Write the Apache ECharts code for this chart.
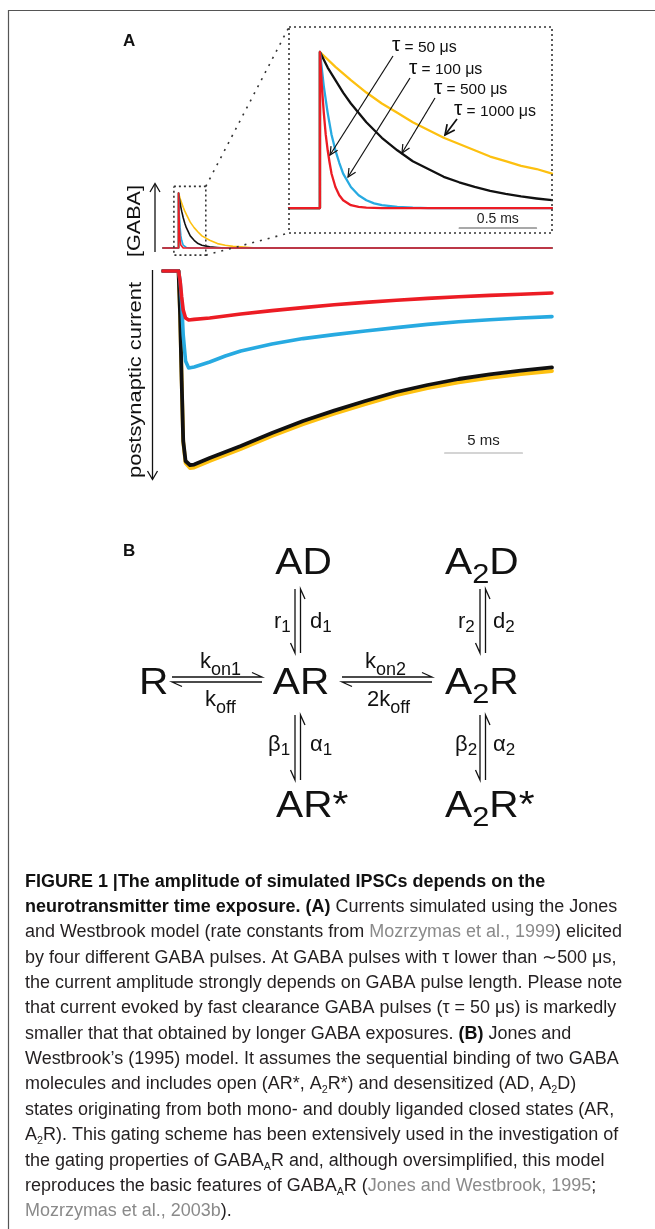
<!DOCTYPE html>
<html><head><meta charset="utf-8">
<script src="https://cdn.jsdelivr.net/npm/echarts@6/dist/echarts.min.js"></script>
<style>html,body{margin:0;padding:0;background:#fff}#c{width:655px;height:1229px}</style>
</head><body><div id="c"></div>
<script>
// ---------------- DATA ----------------
// GABA pulses, overview trace (time in ms, normalised concentration)
const smallT      = [-1, 0, 0, 0.05, 0.1, 0.15, 0.2, 0.3, 0.4, 0.5, 0.75, 1, 1.25, 1.5, 2, 2.5, 3, 3.5, 4, 5, 24];
const smallRed    = [0, 0, 1, 0.37, 0.14, 0.05, 0.02, 0, 0, 0, 0, 0, 0, 0, 0, 0, 0, 0, 0, 0, 0];
const smallBlue   = [0, 0, 1, 0.61, 0.37, 0.22, 0.14, 0.05, 0.02, 0.01, 0, 0, 0, 0, 0, 0, 0, 0, 0, 0, 0];
const smallBlack  = [0, 0, 1, 0.9, 0.82, 0.74, 0.67, 0.55, 0.45, 0.37, 0.22, 0.14, 0.08, 0.05, 0.02, 0.01, 0, 0, 0, 0, 0];
const smallYellow = [0, 0, 1, 0.95, 0.9, 0.86, 0.82, 0.74, 0.67, 0.61, 0.47, 0.37, 0.29, 0.22, 0.14, 0.08, 0.05, 0.03, 0.02, 0, 0];

// GABA pulses, zoomed inset
const redInT    = [-0.2, 0, 0, 0.0125, 0.025, 0.0375, 0.05, 0.0625, 0.075, 0.1, 0.125, 0.15, 0.2, 0.25, 0.3, 0.4, 1.5];
const redIn     = [0, 0, 1, 0.78, 0.61, 0.47, 0.37, 0.29, 0.22, 0.135, 0.082, 0.05, 0.018, 0.007, 0.002, 0, 0];
const blueInT   = [-0.2, 0, 0, 0.025, 0.05, 0.075, 0.1, 0.125, 0.15, 0.2, 0.25, 0.3, 0.35, 0.4, 0.5, 0.6, 0.7, 1.5];
const blueIn    = [0, 0, 1, 0.78, 0.61, 0.47, 0.37, 0.29, 0.22, 0.135, 0.082, 0.05, 0.03, 0.018, 0.007, 0.002, 0, 0];
const blackInT  = [-0.2, 0, 0, 0.05, 0.1, 0.15, 0.2, 0.3, 0.4, 0.5, 0.6, 0.7, 0.8, 0.9, 1.0, 1.1, 1.2, 1.3, 1.4, 1.5];
const blackIn   = [0, 0, 1, 0.9, 0.82, 0.74, 0.67, 0.55, 0.45, 0.37, 0.3, 0.25, 0.2, 0.165, 0.135, 0.11, 0.09, 0.074, 0.061, 0.05];
const yellowInT = [-0.2, 0, 0, 0.1, 0.2, 0.3, 0.4, 0.5, 0.6, 0.7, 0.8, 0.9, 1.0, 1.1, 1.2, 1.3, 1.4, 1.5];
const yellowIn  = [0, 0, 1, 0.905, 0.82, 0.74, 0.67, 0.61, 0.55, 0.5, 0.45, 0.41, 0.37, 0.33, 0.3, 0.27, 0.25, 0.22];
const tauLabels = ['50', '100', '500', '1000'];

// Postsynaptic currents (time in ms, arbitrary units)
const curRedT   = [-1, 0, 0.1, 0.2, 0.3, 0.45, 0.65, 1, 2, 3, 4, 6, 8, 10, 12, 14, 16, 18, 20, 22, 24];
const curRed    = [0, 0, -5, -13, -19.5, -23.5, -24.5, -24.2, -23.5, -22.5, -21.5, -19.8, -18.3, -16.9, -15.7, -14.6, -13.7, -12.9, -12.2, -11.6, -11];
const curBlueT  = [-1, 0, 0.1, 0.2, 0.3, 0.45, 0.65, 1, 2, 3, 4, 6, 8, 10, 12, 14, 16, 18, 20, 22, 24];
const curBlue   = [0, 0, -5, -16, -32, -45, -48.5, -48, -45.5, -42.5, -40, -36.5, -33.8, -31.8, -30, -28.3, -26.7, -25.4, -24.4, -23.5, -22.8];
const curBlackT = [-1, 0, 0.1, 0.2, 0.3, 0.45, 0.73, 1, 2, 3, 4, 6, 8, 10, 12, 14, 16, 18, 20, 22, 24];
const curBlack  = [0, 0, -22, -55, -85, -95, -97, -96.8, -93.5, -90.5, -87.5, -81, -75, -69.8, -65, -60.5, -57, -54, -51.7, -49.8, -48.2];
const curYellow = [0, 0, -22, -55, -85.5, -96, -98.5, -98.3, -95, -92, -89, -82.5, -76.6, -71.4, -66.6, -62.1, -58.6, -55.7, -53.4, -51.6, -50];

// scale bars
const insetBar = [0.9, 1.4, -0.128];   // 0.5 ms
const curBar   = [17.1, 22.1, -91];    // 5 ms

// Caption (style, text)
const captionLines = [
  [['b', 'FIGURE 1 |The amplitude of simulated IPSCs depends on the']],
  [['b', 'neurotransmitter time exposure. (A)'], ['n', ' Currents simulated using the Jones']],
  [['n', 'and Westbrook model (rate constants from '], ['g', 'Mozrzymas et al., 1999'], ['n', ') elicited']],
  [['n', 'by four different GABA pulses. At GABA pulses with τ lower than ∼500 μs,']],
  [['n', 'the current amplitude strongly depends on GABA pulse length. Please note']],
  [['n', 'that current evoked by fast clearance GABA pulses (τ = 50 μs) is markedly']],
  [['n', 'smaller that that obtained by longer GABA exposures. '], ['b', '(B)'], ['n', ' Jones and']],
  [['n', 'Westbrook’s (1995) model. It assumes the sequential binding of two GABA']],
  [['n', 'molecules and includes open (AR*, A'], ['s', '2'], ['n', 'R*) and desensitized (AD, A'], ['s', '2'], ['n', 'D)']],
  [['n', 'states originating from both mono- and doubly liganded closed states (AR,']],
  [['n', 'A'], ['s', '2'], ['n', 'R). This gating scheme has been extensively used in the investigation of']],
  [['n', 'the gating properties of GABA'], ['s', 'A'], ['n', 'R and, although oversimplified, this model']],
  [['n', 'reproduces the basic features of GABA'], ['s', 'A'], ['n', 'R ('], ['g', 'Jones and Westbrook, 1995'], ['n', ';']],
  [['g', 'Mozrzymas et al., 2003b'], ['n', ').']]
];

// ---------------- CHART ----------------
const FONT = "'Liberation Sans', Arial, Helvetica, sans-serif";
const RED = '#ec1c24', BLUE = '#27aae1', BLACK = '#111111', YELLOW = '#fdc010';
const chart = echarts.init(document.getElementById('c'), null, {renderer: 'canvas'});
const zip = (t, v) => t.map((x, i) => [x, v[i]]);
const hidden = {show: false};
function ax(min, max, i) {
  return {type: 'value', gridIndex: i, min, max, show: false, axisLine: hidden, axisTick: hidden, axisLabel: hidden, splitLine: hidden};
}
function ln(name, x, y, data, color, width) {
  return {name, type: 'line', xAxisIndex: x, yAxisIndex: y, data, showSymbol: false, symbol: 'none', clip: false,
          lineStyle: {color, width, cap: 'round', join: 'round'}, silent: true, animation: false};
}

chart.setOption({
  animation: false,
  backgroundColor: '#ffffff',
  grid: [
    {left: 163, top: 187.5, width: 389, height: 66},
    {left: 289, top: 27, width: 263, height: 206},
    {left: 163, top: 267, width: 389, height: 208}
  ],
  xAxis: [ax(-1, 24, 0), ax(-0.2, 1.5, 1), ax(-1, 24, 2)],
  yAxis: [ax(-0.1, 1.1, 0), ax(-0.16, 1.16, 1), ax(-102, 2, 2)],
  series: [
    ln('s-y', 0, 0, zip(smallT, smallYellow), YELLOW, 1.6),
    ln('s-k', 0, 0, zip(smallT, smallBlack), BLACK, 1.6),
    ln('s-b', 0, 0, zip(smallT, smallBlue), BLUE, 1.6),
    ln('s-r', 0, 0, zip(smallT, smallRed), RED, 1.6),
    ln('i-y', 1, 1, zip(yellowInT, yellowIn), YELLOW, 2.3),
    ln('i-k', 1, 1, zip(blackInT, blackIn), BLACK, 2.3),
    ln('i-b', 1, 1, zip(blueInT, blueIn), BLUE, 2.3),
    ln('i-r', 1, 1, zip(redInT, redIn), RED, 2.3),
    ln('bar1', 1, 1, [[insetBar[0], insetBar[2]], [insetBar[1], insetBar[2]]], '#555', 1.2),
    ln('c-y', 2, 2, zip(curBlackT, curYellow), YELLOW, 3.8),
    ln('c-k', 2, 2, zip(curBlackT, curBlack), BLACK, 3.8),
    ln('c-b', 2, 2, zip(curBlueT, curBlue), BLUE, 3.6),
    ln('c-r', 2, 2, zip(curRedT, curRed), RED, 3.6),
    ln('bar2', 2, 2, [[curBar[0], curBar[2]], [curBar[1], curBar[2]]], '#aaaaaa', 1.2)
  ]
});

// ---------------- TEXT / DECORATION ----------------
const mctx = document.createElement('canvas').getContext('2d');
function tw(text, size, weight) { mctx.font = (weight || 'normal') + ' ' + size + 'px ' + FONT; return mctx.measureText(text).width; }
function txt(text, x, y, size, opt) {
  opt = opt || {};
  return {type: 'text', x, y, rotation: opt.rot || 0, scaleX: opt.sx || 1, silent: true, z: 100,
    style: {text, fill: opt.color || '#111', fontSize: size, fontWeight: opt.weight || 'normal', fontFamily: FONT,
            lineHeight: size, align: opt.align || 'left', verticalAlign: 'middle', textAlign: opt.align || 'left', textVerticalAlign: 'middle'}};
}
// place runs on a baseline (optional horizontal stretch sx)
function place(runs, x, base, align, sx) {
  sx = sx || 1;
  const w = runs.map(r => tw(r.t, r.s, r.w) * sx);
  const total = w.reduce((a, b) => a + b, 0);
  let cx = align === 'center' ? x - total / 2 : x;
  const out = [];
  runs.forEach((r, i) => {
    out.push(txt(r.t, cx, base + (r.dy || 0) - 0.35 * r.s, r.s, {color: r.c, weight: r.w, sx}));
    cx += w[i];
  });
  return out;
}
function pl(points, opt) {
  opt = opt || {};
  return {type: 'polyline', silent: true, z: 90, shape: {points},
    style: {stroke: opt.color || '#111', lineWidth: opt.w || 1.2, fill: null, lineDash: opt.dash || null}};
}
function arrow(x1, y1, x2, y2, len, w) {
  len = len || 9;
  const a = Math.atan2(y2 - y1, x2 - x1), s = 0.45;
  return [pl([[x1, y1], [x2, y2]], {w: w || 1.2}),
          pl([[x2 - len * Math.cos(a - s), y2 - len * Math.sin(a - s)], [x2, y2], [x2 - len * Math.cos(a + s), y2 - len * Math.sin(a + s)]], {w: w || 1.2})];
}
function hp(x1, x2, y) {
  return [pl([[x1, y], [x2, y], [x2 - 10, y - 4.5]], {w: 1.3}),
          pl([[x1 + 10, y + 9.5], [x1, y + 5], [x2, y + 5]], {w: 1.3})];
}
function vp(x, y1, y2) {
  return [pl([[x, y1], [x, y2], [x - 4.5, y2 - 10]], {w: 1.3}),
          pl([[x + 10, y1 + 10], [x + 5.5, y1], [x + 5.5, y2]], {w: 1.3})];
}

const P = (g, p) => chart.convertToPixel({gridIndex: g}, p);
const G = [];
// frame
G.push(pl([[655, 10.5], [8.5, 10.5], [8.5, 1229]], {color: '#555', w: 1.2}));
// panel letters
G.push(...place([{t: 'A', s: 17, w: 'bold'}], 123, 47));
G.push(...place([{t: 'B', s: 17, w: 'bold'}], 123, 557));

// dotted boxes + connectors
const sb1 = P(0, [-0.3, 1.12]), sb2 = P(0, [1.75, -0.13]);
const ib1 = P(1, [-0.2, 1.16]), ib2 = P(1, [1.5, -0.16]);
const dot = {color: '#333', w: 1.6, dash: [2, 3]};
G.push(pl([[sb1[0], sb1[1]], [sb2[0], sb1[1]], [sb2[0], sb2[1]], [sb1[0], sb2[1]], [sb1[0], sb1[1]]], dot));
G.push(pl([[ib1[0], ib1[1]], [ib2[0], ib1[1]], [ib2[0], ib2[1]], [ib1[0], ib2[1]], [ib1[0], ib1[1]]], dot));
G.push(pl([[sb2[0], sb1[1]], [ib1[0], ib1[1]]], {color: '#333', w: 1.6, dash: [2, 6]}));
G.push(pl([[sb2[0], sb2[1]], [ib1[0], ib2[1]]], {color: '#333', w: 1.6, dash: [2, 6]}));

// scale bar labels
const b1 = P(1, [(insetBar[0] + insetBar[1]) / 2, insetBar[2]]);
G.push(txt('0.5 ms', b1[0], b1[1] - 9, 14, {align: 'center', color: '#222'}));
const b2 = P(2, [(curBar[0] + curBar[1]) / 2, curBar[2]]);
G.push(txt('5 ms', b2[0], b2[1] - 12, 15, {align: 'center', color: '#222'}));

// tau labels and arrows
const tauPos = [[392, 53], [409, 75.5], [434, 95.5], [454, 117]];
tauLabels.forEach((v, i) => {
  G.push(...place([{t: 'τ', s: 21}, {t: ' = ' + v + ' ', s: 15.5}, {t: 'μs', s: 16}], tauPos[i][0], tauPos[i][1]));
});
G.push(...arrow(393, 56, 330, 155));
G.push(...arrow(410, 78, 348, 177));
G.push(...arrow(435, 98, 402, 153));
G.push(...arrow(457, 119, 445, 135, 11, 1.7));

// axis arrows & rotated labels
G.push(pl([[155, 252], [155, 184]], {w: 1.3}), pl([[150, 192], [155, 183.5], [160, 192]], {w: 1.3}));
G.push(pl([[152.5, 270], [152.5, 479]], {w: 1.3}), pl([[147.5, 471], [152.5, 479.5], [157.5, 471]], {w: 1.3}));
G.push(txt('[GABA]', 135, 221, 19, {rot: Math.PI / 2, align: 'center', sx: 72 / tw('[GABA]', 19)}));
G.push(txt('postsynaptic current', 136, 380, 18.5, {rot: Math.PI / 2, align: 'center', sx: 196 / tw('postsynaptic current', 18.5)}));

// ---------------- PANEL B scheme ----------------
const BIG = 37, SUB = 28, RL = 22, RS = 17, BS = 1.1;
G.push(...place([{t: 'AD', s: BIG}], 303.5, 577, 'center', BS));
G.push(...place([{t: 'A', s: BIG}, {t: '2', s: SUB, dy: 8}, {t: 'D', s: BIG}], 445, 577, 'left', BS));
G.push(...place([{t: 'R', s: BIG}], 139, 697, 'left', BS));
G.push(...place([{t: 'AR', s: BIG}], 301, 697, 'center', BS));
G.push(...place([{t: 'A', s: BIG}, {t: '2', s: SUB, dy: 8}, {t: 'R', s: BIG}], 445, 697, 'left', BS));
G.push(...place([{t: 'AR*', s: BIG}], 276, 820, 'left', BS));
G.push(...place([{t: 'A', s: BIG}, {t: '2', s: SUB, dy: 8}, {t: 'R*', s: BIG}], 445, 820, 'left', BS));
G.push(...place([{t: 'r', s: RL}, {t: '1', s: RS, dy: 3}], 274, 630));
G.push(...place([{t: 'd', s: RL}, {t: '1', s: RS, dy: 3}], 310, 630));
G.push(...place([{t: 'r', s: RL}, {t: '2', s: RS, dy: 3}], 458, 630));
G.push(...place([{t: 'd', s: RL}, {t: '2', s: RS, dy: 3}], 493, 630));
G.push(...place([{t: 'β', s: RL}, {t: '1', s: RS, dy: 3}], 268, 753));
G.push(...place([{t: 'α', s: RL}, {t: '1', s: RS, dy: 3}], 310, 753));
G.push(...place([{t: 'β', s: RL}, {t: '2', s: RS, dy: 3}], 455, 753));
G.push(...place([{t: 'α', s: RL}, {t: '2', s: RS, dy: 3}], 493, 753));
G.push(...place([{t: 'k', s: RL}, {t: 'on1', s: 18, dy: 6}], 200, 670));
G.push(...place([{t: 'k', s: RL}, {t: 'off', s: 18, dy: 6}], 205, 708));
G.push(...place([{t: 'k', s: RL}, {t: 'on2', s: 18, dy: 6}], 365, 670));
G.push(...place([{t: '2k', s: RL}, {t: 'off', s: 18, dy: 6}], 367, 708));
G.push(...hp(172, 262, 677), ...hp(342, 432, 677));
G.push(...vp(295, 589, 653), ...vp(295, 715, 780), ...vp(480, 589, 653), ...vp(480, 715, 780));

// ---------------- CAPTION ----------------
const line3 = captionLines[2].map(r => r[1]).join('');
let CF = 16.5 * 597 / tw(line3, 16.5);
CF = Math.max(15, Math.min(18, CF));
const STY = {
  n: {s: CF, c: '#231f20'},
  b: {s: CF, c: '#111', w: 'bold'},
  g: {s: CF, c: '#8a8a8a'},
  s: {s: CF * 0.6, c: '#231f20', dy: 3.5}
};
captionLines.forEach((line, k) => {
  const runs = line.map(([st, t]) => Object.assign({t}, STY[st]));
  G.push(...place(runs, 25, 888 + 25.35 * k));
});

chart.setOption({graphic: {elements: G}});
</script></body></html>
